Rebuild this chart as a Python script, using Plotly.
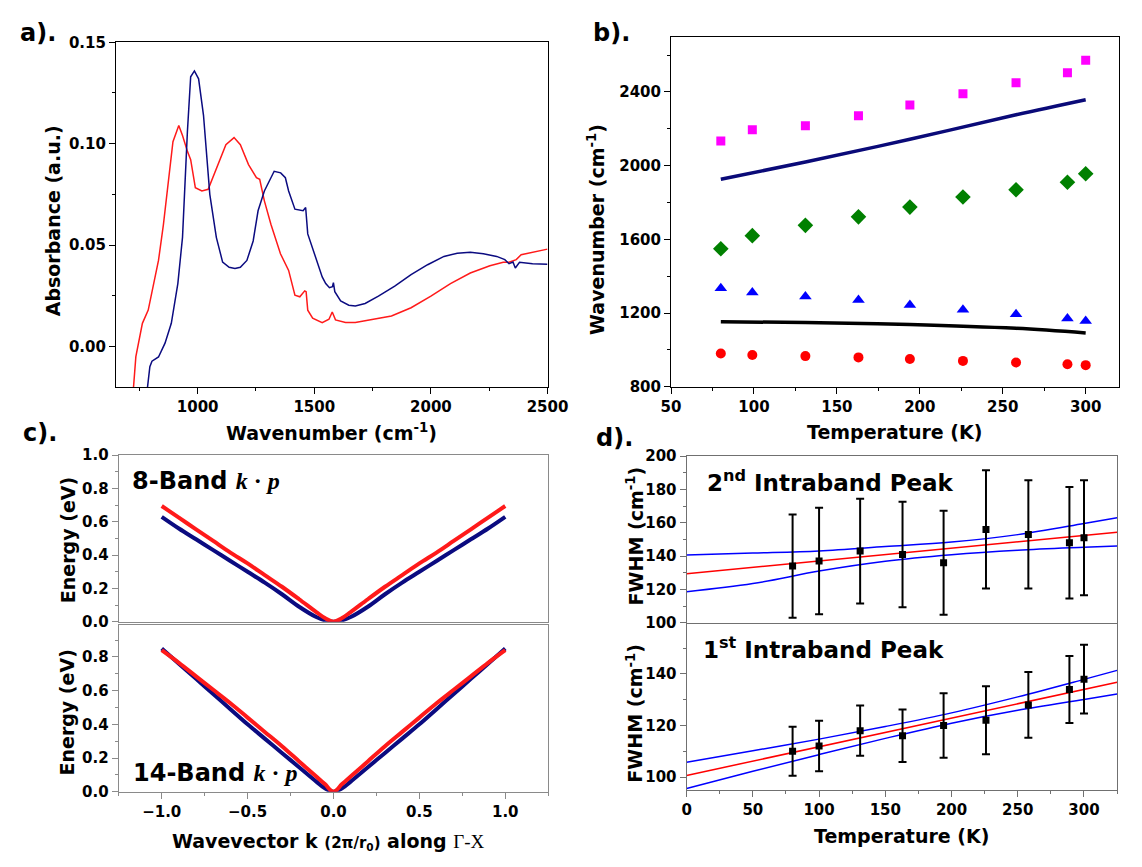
import plotly.graph_objects as go

# ---------------- Panel a: absorbance spectra ----------------
a_blue_wn = [780, 784, 795, 804, 832, 860, 887, 915, 935, 956, 970, 986, 1004, 1025, 1052, 1080,
             1107, 1135, 1160, 1183, 1211, 1238, 1259, 1286, 1328, 1356, 1376, 1390, 1417, 1452,
             1463, 1472, 1500, 1521, 1534, 1549, 1565, 1578, 1582, 1588, 1600, 1613, 1648, 1676,
             1718, 1775, 1845, 1915, 1986, 2056, 2113, 2169, 2225, 2282, 2317, 2335, 2352, 2362,
             2380, 2436, 2500]
a_blue_abs = [-0.025, -0.02, -0.01, -0.0073, -0.0052, 0.0016, 0.0114, 0.031, 0.0538, 0.106, 0.133,
              0.1359, 0.132, 0.114, 0.075, 0.0538, 0.0416, 0.039, 0.0385, 0.039, 0.0424, 0.052,
              0.0669, 0.0767, 0.0864, 0.0856, 0.0832, 0.0767, 0.0677, 0.0669, 0.0685, 0.0555,
              0.0457, 0.038, 0.0343, 0.031, 0.029, 0.0295, 0.0315, 0.027, 0.025, 0.0224, 0.0203,
              0.020, 0.0212, 0.0248, 0.0297, 0.0354, 0.0403, 0.0444, 0.046, 0.0465, 0.0457, 0.0444,
              0.0428, 0.0408, 0.0416, 0.0387, 0.0415, 0.0408, 0.0405]
a_red_wn = [720, 725, 735, 743, 763, 788, 811, 832, 853, 873, 894, 919, 935, 956, 970, 990, 1018,
            1045, 1080, 1121, 1156, 1183, 1218, 1252, 1266, 1286, 1314, 1355, 1390, 1417, 1438,
            1459, 1465, 1472, 1493, 1534, 1563, 1577, 1591, 1634, 1676, 1746, 1831, 1915, 2000,
            2084, 2169, 2253, 2310, 2335, 2352, 2366, 2387, 2436, 2500]
a_red_abs = [-0.025, -0.02, -0.005, 0.0, 0.0114, 0.0179, 0.031, 0.0424, 0.060, 0.0815, 0.101, 0.109,
             0.104, 0.0962, 0.0921, 0.0783, 0.0767, 0.0775, 0.088, 0.0995, 0.103, 0.0995, 0.0897,
             0.0832, 0.0824, 0.0718, 0.0603, 0.0457, 0.0375, 0.0253, 0.0245, 0.0274, 0.027,
             0.0179, 0.0139, 0.0117, 0.0134, 0.017, 0.0131, 0.0118, 0.0118, 0.0131, 0.015, 0.0191,
             0.0248, 0.031, 0.0362, 0.0398, 0.0415, 0.0415, 0.0424, 0.0428, 0.0452, 0.0465, 0.048]

# ---------------- Panel b: peak positions vs temperature ----------------
b_temp = [80, 99, 131, 163, 194, 226, 258, 289, 300]
b_pink = [2134, 2195, 2216, 2271, 2329, 2391, 2450, 2504, 2572]
b_green = [1549, 1620, 1676, 1722, 1775, 1830, 1869, 1910, 1956]
b_blue = [1335, 1312, 1289, 1271, 1244, 1218, 1193, 1170, 1156]
b_red = [980, 972, 966, 959, 950, 940, 931, 922, 917]
b_line_temp = [80, 131, 194, 258, 300]
b_navy_line = [1926, 2020, 2143, 2276, 2358]
b_black_line = [1152, 1149, 1138, 1117, 1092]

# ---------------- Panel c: band dispersion ----------------
c_k = [-1.0, -0.9, -0.8, -0.7, -0.6, -0.5, -0.4, -0.3, -0.2, -0.1, -0.05, 0.0,
       0.05, 0.1, 0.2, 0.3, 0.4, 0.5, 0.6, 0.7, 0.8, 0.9, 1.0]
c8_blue = [0.63, 0.56, 0.495, 0.43, 0.365, 0.30, 0.235, 0.165, 0.09, 0.028, 0.008, 0.0,
           0.008, 0.028, 0.09, 0.165, 0.235, 0.30, 0.365, 0.43, 0.495, 0.56, 0.63]
c8_red = [0.695, 0.625, 0.555, 0.485, 0.415, 0.35, 0.28, 0.21, 0.135, 0.058, 0.022, 0.0,
          0.022, 0.058, 0.135, 0.21, 0.28, 0.35, 0.415, 0.485, 0.555, 0.625, 0.695]
c14_blue = [0.85, 0.76, 0.67, 0.58, 0.49, 0.40, 0.315, 0.23, 0.145, 0.06, 0.02, 0.0,
            0.02, 0.06, 0.145, 0.23, 0.315, 0.40, 0.49, 0.58, 0.67, 0.76, 0.85]
c14_red = [0.84, 0.765, 0.685, 0.605, 0.525, 0.44, 0.355, 0.27, 0.18, 0.09, 0.045, 0.0,
           0.045, 0.09, 0.18, 0.27, 0.355, 0.44, 0.525, 0.605, 0.685, 0.765, 0.84]

# ---------------- Panel d: FWHM vs temperature ----------------
d_temp = [80, 100, 131, 163, 194, 226, 258, 289, 300]
d2_fwhm = [134, 137, 143, 141, 136, 156, 153, 148, 151]
d2_err = [31, 32, 31.5, 31.7, 31.2, 35.5, 32.5, 33.5, 34.5]
d1_fwhm = [110, 112, 118, 116, 120, 122, 128, 134, 138]
d1_err = [9.5, 9.8, 9.75, 10.2, 12.5, 13.2, 12.8, 13, 13.3]
d_fit_temp = [0, 50, 100, 150, 200, 250, 300, 325]
d2_fit = [129.4, 133.2, 137.1, 140.9, 144.7, 148.6, 152.4, 154.3]
d2_upper = [140.6, 141.8, 143.1, 145.7, 148.4, 152.9, 159.6, 163.1]
d2_lower = [118.6, 123.5, 131.0, 136.9, 140.8, 143.5, 145.3, 146.1]
d1_fit = [100.6, 106.2, 111.7, 117.3, 122.9, 128.5, 134.0, 136.8]
d1_upper = [105.7, 110.2, 114.7, 119.6, 124.9, 131.1, 137.9, 141.4]
d1_lower = [95.5, 102.2, 108.7, 115.0, 120.9, 125.9, 130.1, 132.2]

W, H = 1142, 867
FONT = "DejaVu Sans"
NAVY = "#0b0b80"
RED = "#ff1a1a"


def px(x):
    return x / W


def py(y):
    return 1 - y / H


fig = go.Figure()

# panel a
fig.add_trace(go.Scatter(x=a_red_wn, y=a_red_abs, mode="lines", line=dict(color=RED, width=1.5),
                         xaxis="x", yaxis="y", showlegend=False))
fig.add_trace(go.Scatter(x=a_blue_wn, y=a_blue_abs, mode="lines", line=dict(color=NAVY, width=1.5),
                         xaxis="x", yaxis="y", showlegend=False))

# panel b
fig.add_trace(go.Scatter(x=b_line_temp, y=b_navy_line, mode="lines", line=dict(color="#0a0a78", width=3.5, shape="spline"),
                         xaxis="x2", yaxis="y2", showlegend=False))
fig.add_trace(go.Scatter(x=b_line_temp, y=b_black_line, mode="lines", line=dict(color="black", width=3.5, shape="spline"),
                         xaxis="x2", yaxis="y2", showlegend=False))
fig.add_trace(go.Scatter(x=b_temp, y=b_pink, mode="markers", marker=dict(symbol="square", size=9, color="#ff00ff"),
                         xaxis="x2", yaxis="y2", showlegend=False))
fig.add_trace(go.Scatter(x=b_temp, y=b_green, mode="markers", marker=dict(symbol="diamond", size=12, color="#008000"),
                         xaxis="x2", yaxis="y2", showlegend=False))
fig.add_trace(go.Scatter(x=b_temp, y=b_blue, mode="markers", marker=dict(symbol="triangle-up", size=11, color="#0000ff"),
                         xaxis="x2", yaxis="y2", showlegend=False))
fig.add_trace(go.Scatter(x=b_temp, y=b_red, mode="markers", marker=dict(symbol="circle", size=10, color="#ff0000"),
                         xaxis="x2", yaxis="y2", showlegend=False))

# panel c
fig.add_trace(go.Scatter(x=c_k, y=c8_blue, mode="lines", line=dict(color=NAVY, width=4, shape="spline"),
                         xaxis="x3", yaxis="y3", showlegend=False))
fig.add_trace(go.Scatter(x=c_k, y=c8_red, mode="lines", line=dict(color=RED, width=4, shape="spline"),
                         xaxis="x3", yaxis="y3", showlegend=False))
fig.add_trace(go.Scatter(x=c_k, y=c14_blue, mode="lines", line=dict(color=NAVY, width=4, shape="spline"),
                         xaxis="x4", yaxis="y4", showlegend=False))
fig.add_trace(go.Scatter(x=c_k, y=c14_red, mode="lines", line=dict(color=RED, width=4, shape="spline"),
                         xaxis="x4", yaxis="y4", showlegend=False))

# panel d
for xa, ya, up, fit, lo, vals, errs in [("x5", "y5", d2_upper, d2_fit, d2_lower, d2_fwhm, d2_err),
                                        ("x6", "y6", d1_upper, d1_fit, d1_lower, d1_fwhm, d1_err)]:
    fig.add_trace(go.Scatter(x=d_fit_temp, y=up, mode="lines", line=dict(color="#0000ff", width=1.5, shape="spline"),
                             xaxis=xa, yaxis=ya, showlegend=False))
    fig.add_trace(go.Scatter(x=d_fit_temp, y=lo, mode="lines", line=dict(color="#0000ff", width=1.5, shape="spline"),
                             xaxis=xa, yaxis=ya, showlegend=False))
    fig.add_trace(go.Scatter(x=d_fit_temp, y=fit, mode="lines", line=dict(color="#ff0000", width=1.5),
                             xaxis=xa, yaxis=ya, showlegend=False))
    fig.add_trace(go.Scatter(x=d_temp, y=vals, mode="markers",
                             marker=dict(symbol="square", size=7, color="black"),
                             error_y=dict(type="data", array=errs, color="black", thickness=2, width=4),
                             xaxis=xa, yaxis=ya, showlegend=False))


def axis(domain, rng, tick0, dtick, mdtick, anchor, color="black", labels=True, fmt=None, ticks="outside"):
    d = dict(domain=domain, range=rng, anchor=anchor, showline=True, linecolor=color, linewidth=1.2,
             mirror=True, ticks=ticks, ticklen=6, tickwidth=1.2, tickcolor=color, tick0=tick0, dtick=dtick,
             showgrid=False, zeroline=False, showticklabels=labels,
             tickfont=dict(family=FONT, size=15, color="black", weight="bold"))
    if mdtick:
        d["minor"] = dict(tick0=tick0, dtick=mdtick, ticks=ticks, ticklen=3, tickwidth=1.2, tickcolor=color,
                          showgrid=False)
    if fmt:
        d["tickformat"] = fmt
    return d


CGRAY = "#8a8a8a"
DGRAY = "#707070"

xa_dom = [px(109), px(552.5)]
xb_dom = [px(679.5), px(1139.8)]
xc_dom = [px(111.8), px(553.2)]
xd_dom = [px(695.5), px(1138)]

fig.update_layout(
    width=W, height=H, autosize=False, margin=dict(l=0, r=0, t=0, b=0),
    paper_bgcolor="white", plot_bgcolor="white",
    xaxis=axis(xa_dom, [650, 2500], 1000, 500, 250, "y"),
    yaxis=axis([py(386), py(34)], [-0.02, 0.15], 0, 0.05, 0.025, "x", fmt=".2f"),
    xaxis2=axis(xb_dom, [50, 320], 50, 50, 25, "y2"),
    yaxis2=axis([py(385.7), py(28.3)], [800, 2700], 800, 400, 200, "x2"),
    xaxis3=axis(xc_dom, [-1.25, 1.25], 0, 0.5, None, "y3", color=CGRAY, labels=False, ticks=""),
    yaxis3=axis([py(625.7), py(455.7)], [0, 1.0], 0, 0.2, 0.1, "x3", color=CGRAY, fmt=".1f"),
    xaxis4=axis(xc_dom, [-1.25, 1.25], 0, 0.5, 0.25, "y4", color=CGRAY, fmt=".1f"),
    yaxis4=axis([py(799.3), py(629)], [0, 0.99], 0, 0.2, 0.1, "x4", color=CGRAY, fmt=".1f"),
    xaxis5=axis(xd_dom, [0, 325], 0, 50, None, "y5", color=DGRAY, labels=False, ticks=""),
    yaxis5=axis([py(626.7), py(456.7)], [100, 200], 100, 20, 10, "x5", color=DGRAY),
    xaxis6=axis(xd_dom, [0, 325], 0, 50, 25, "y6", color=DGRAY),
    yaxis6=axis([py(797.7), py(628.3)], [94.9, 159.3], 100, 20, 10, "x6", color=DGRAY),
)


def ann(text, x, y, size, xanchor="center", angle=0, yanchor="middle"):
    fig.add_annotation(text=text, x=px(x), y=py(y), xref="paper", yref="paper", showarrow=False,
                       xanchor=xanchor, yanchor=yanchor, textangle=angle,
                       font=dict(family=FONT, size=size, color="black"))


# panel labels
ann("<b>a).</b>", 8, 25, 24, xanchor="left")
ann("<b>b).</b>", 597, 25, 24, xanchor="left")
ann("<b>c).</b>", 11, 433, 24, xanchor="left")
ann("<b>d).</b>", 600, 438, 24, xanchor="left")

# axis titles
ann("<b>Wavenumber (cm<sup>-1</sup>)</b>", 330, 432, 19)
ann("<b>Absorbance (a.u.)</b>", 44, 216, 19, angle=-90)
ann("<b>Temperature (K)</b>", 909, 432, 19)
ann("<b>Wavenumber (cm<sup>-1</sup>)</b>", 603, 225, 19, angle=-90)
ann("<b>Energy (eV)</b>", 59, 542, 19, angle=-90)
ann("<b>Energy (eV)</b>", 59, 718, 19, angle=-90)
ann("<b>Wavevector k </b><span style='font-size:15px'><b>(2π/r<sub>0</sub>)</b></span><b> along </b>"
    "<span style=\"font-family:'Liberation Serif'\">Γ-X</span>", 327, 850, 19)
ann("<b>FWHM (cm<sup>-1</sup>)</b>", 642, 538, 19, angle=-90)
ann("<b>FWHM (cm<sup>-1</sup>)</b>", 642, 719, 19, angle=-90)
ann("<b>Temperature (K)</b>", 916, 845, 19)

# in-panel labels
KP = "<span style=\"font-family:'Liberation Serif'\"><b><i>k</i> · <i>p</i></b></span>"
ann("<b>8-Band </b>" + KP, 123, 482, 24, xanchor="left")
ann("<b>14-Band </b>" + KP, 124, 780, 24, xanchor="left")
ann("<b>2<sup>nd</sup> Intraband Peak</b>", 714, 482, 23, xanchor="left")
ann("<b>1<sup>st</sup> Intraband Peak</b>", 710, 653, 23, xanchor="left")

fig.write_html("out.html")
